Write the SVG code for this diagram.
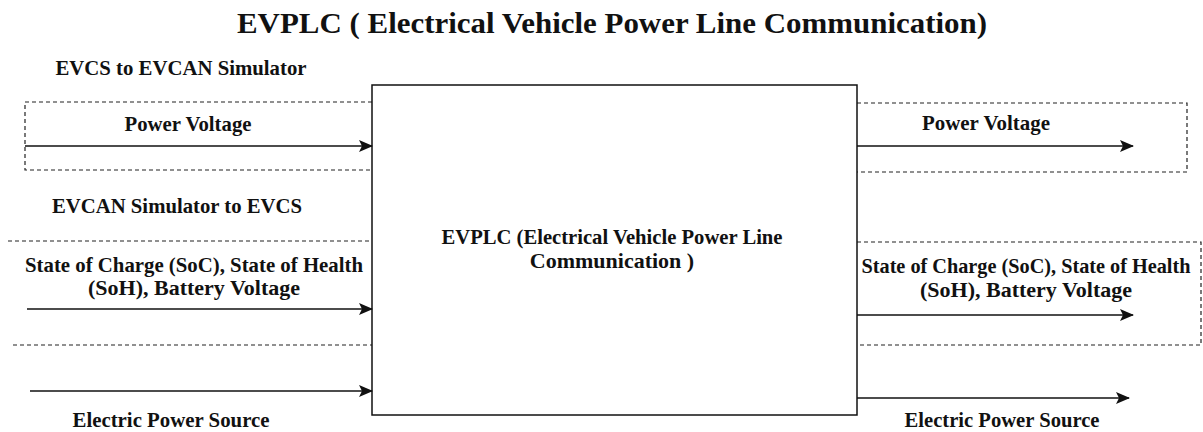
<svg xmlns="http://www.w3.org/2000/svg" width="1203" height="432" viewBox="0 0 1203 432">
<style>
text{font-family:'Liberation Serif','Times New Roman','DejaVu Serif',serif;font-weight:700;fill:#111;text-anchor:middle}
.lbl{font-size:22px}
.title{font-size:30px}
.dash{fill:none;stroke:#222;stroke-width:1.2;stroke-dasharray:4 3}
.arr{fill:none;stroke:#111;stroke-width:1.5;marker-end:url(#ah)}
</style>
<defs>
<marker id="ah" markerUnits="userSpaceOnUse" markerWidth="14" markerHeight="12" refX="13" refY="6" orient="auto">
<path d="M0,0 L14,6 L0,12 L3,6 Z" fill="#111"/>
</marker>
</defs>
<rect width="1203" height="432" fill="#fff"/>
<g font-family="Liberation Serif, serif">
<text class="title" x="612" y="33" textLength="750" lengthAdjust="spacingAndGlyphs">EVPLC ( Electrical Vehicle Power Line Communication)</text>
<g id="regions">
<text class="lbl" x="181" y="75" textLength="251" lengthAdjust="spacingAndGlyphs">EVCS to EVCAN Simulator</text>
<text class="lbl" x="177" y="213" textLength="250" lengthAdjust="spacingAndGlyphs">EVCAN Simulator to EVCS</text>
<path class="dash" d="M372,102 H25 V170 H372"/>
<path class="dash" d="M857,103 H1187 V172 H857"/>
<path class="dash" d="M8,241 H372 M13,345 H372"/>
<path class="dash" d="M857,242 H1201 V345 H857"/>
</g>
<g id="evplc">
<rect x="372" y="85" width="485" height="330" fill="none" stroke="#111" stroke-width="1.5"/>
<text class="lbl" x="612" y="244" textLength="341" lengthAdjust="spacingAndGlyphs">EVPLC (Electrical Vehicle Power Line</text>
<text class="lbl" x="612" y="268">Communication )</text>
</g>
<g id="connectors">
<line class="arr" x1="25" y1="146" x2="372" y2="146"/>
<line class="arr" x1="27" y1="309" x2="372" y2="309"/>
<line class="arr" x1="30" y1="391" x2="372" y2="391"/>
<line class="arr" x1="857" y1="146" x2="1133" y2="146"/>
<line class="arr" x1="857" y1="315" x2="1133" y2="315"/>
<line class="arr" x1="857" y1="398" x2="1129" y2="398"/>
</g>
<g id="labels">
<text class="lbl" x="188" y="131" textLength="127" lengthAdjust="spacingAndGlyphs">Power Voltage</text>
<text class="lbl" x="986" y="130" textLength="128" lengthAdjust="spacingAndGlyphs">Power Voltage</text>
<text class="lbl" x="194" y="272" textLength="338" lengthAdjust="spacingAndGlyphs">State of Charge (SoC), State of Health</text>
<text class="lbl" x="194" y="295">(SoH), Battery Voltage</text>
<text class="lbl" x="1026" y="273" textLength="329" lengthAdjust="spacingAndGlyphs">State of Charge (SoC), State of Health</text>
<text class="lbl" x="1026" y="297">(SoH), Battery Voltage</text>
<text class="lbl" x="171" y="427" textLength="197" lengthAdjust="spacingAndGlyphs">Electric Power Source</text>
<text class="lbl" x="1002" y="427" textLength="195" lengthAdjust="spacingAndGlyphs">Electric Power Source</text>
</g>
</g>
</svg>
